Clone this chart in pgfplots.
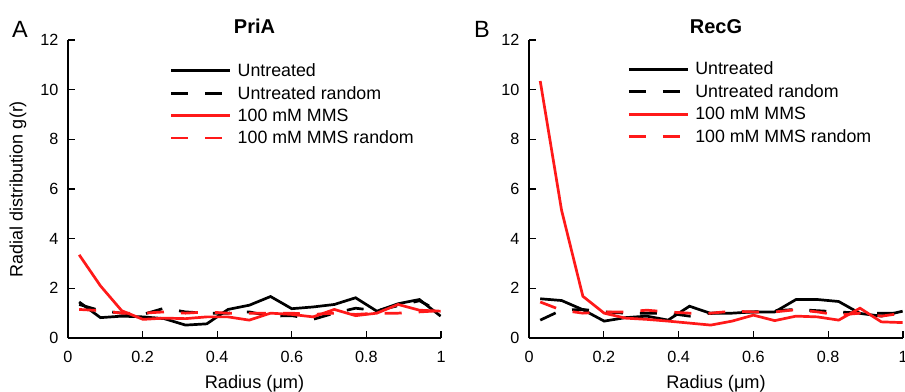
\documentclass[border=0pt]{standalone}
\usepackage{fontspec}
\setmainfont{Liberation Sans}
\usepackage{pgfplots}
\usepackage{pgfplotstable}
\pgfplotsset{compat=1.18}
\definecolor{myred}{RGB}{255,25,25}

\pgfplotstableread{
x     ut    utr   mms   mmsr
0.030 1.45  1.35  3.35  1.15
0.087 0.82  1.10  2.10  1.10
0.144 0.88  1.00  1.10  1.00
0.201 0.85  0.95  0.75  1.00
0.258 0.78  1.20  0.80  1.05
0.315 0.52  1.05  0.78  1.00
0.372 0.57  1.00  0.85  1.05
0.429 1.15  1.00  0.85  1.00
0.486 1.32  1.05  0.72  1.00
0.543 1.67  0.88  1.00  1.00
0.600 1.18  0.90  0.95  1.00
0.657 1.25  0.75  0.85  0.95
0.714 1.35  1.00  1.15  1.00
0.771 1.62  1.20  0.90  0.95
0.828 1.08  1.10  1.00  1.00
0.885 1.38  1.30  1.35  1.00
0.942 1.55  1.50  1.12  1.05
0.999 0.88  1.05  1.08  1.10
}\pria

\pgfplotstableread{
x     ut    utr   mms   mmsr
0.030 1.58  0.72  10.35 1.45
0.087 1.51  1.12  5.15  1.12
0.144 1.14  1.15  1.68  1.00
0.201 0.68  1.05  1.00  1.05
0.258 0.82  1.00  0.80  1.05
0.315 0.88  1.00  0.75  1.12
0.372 0.72  1.00  0.68  1.05
0.429 1.28  0.88  0.60  1.00
0.486 0.99  1.00  0.52  1.00
0.543 1.00  1.05  0.68  1.08
0.600 1.05  1.05  0.92  1.05
0.657 1.05  1.10  0.70  1.05
0.714 1.55  1.15  0.88  1.14
0.771 1.55  1.10  0.85  1.05
0.828 1.47  1.05  0.72  0.92
0.885 0.99  1.00  1.20  1.00
0.942 0.88  1.00  0.65  0.88
0.999 1.08  1.00  0.62  1.00
}\recg

\pgfplotsset{
  gstyle/.style={
    scale only axis, height=298bp,
    xmin=0, xmax=1, ymin=0, ymax=12,
    axis lines=left,
    axis line style={-, line width=1.6bp, black},
    tick style={line width=1.3bp, black},
    major tick length=7bp, tick align=inside,
    xtick={0,0.2,0.4,0.6,0.8,1},
    xticklabels={0,0.2,0.4,0.6,0.8,1},
    ytick={0,2,4,6,8,10,12},
    /pgf/number format/assume math mode=true,
    xticklabel style={font=\fontsize{16.2bp}{18bp}\selectfont, yshift=-10bp},
    yticklabel style={font=\fontsize{16.2bp}{18bp}\selectfont, xshift=-6bp},
    xlabel={Radius (μm)},
    xlabel style={at={(axis description cs:0.5,-0.168)}, anchor=base, font=\fontsize{18.2bp}{20bp}\selectfont},
    title style={at={(axis description cs:0.5,1)}, anchor=base, yshift=1bp, font=\fontsize{20bp}{22bp}\selectfont\bfseries},
    legend style={draw=none, fill=none, anchor=north west,
      font=\fontsize{17.8bp}{20bp}\selectfont, row sep=4.2bp,
      /tikz/every odd column/.append style={column sep=4bp}},
    legend cell align=left,
    legend image code/.code={\draw[#1] (0bp,0bp) -- (59bp,0bp);},
  }
}

\begin{document}
\begin{tikzpicture}
\path[use as bounding box] (0,0) rectangle (905bp,392bp);

\begin{axis}[gstyle, width=373bp, at={(68bp,54bp)}, anchor=south west,
  title={PriA},
  ylabel={Radial distribution g(r)},
  ylabel style={at={(axis description cs:-0.134,0.5)}, anchor=center, font=\fontsize{18bp}{20bp}\selectfont},
  legend style={at={(0.265,0.935)}}]
\addplot[black, line width=2.7bp] table[x=x,y=ut] {\pria};
\addplot[black, line width=2.7bp, dash pattern=on 17bp off 17bp] table[x=x,y=utr] {\pria};
\addplot[myred, line width=2.7bp] table[x=x,y=mms] {\pria};
\addplot[myred, line width=2.7bp, dash pattern=on 17bp off 17bp] table[x=x,y=mmsr] {\pria};
\legend{Untreated, Untreated random, 100 mM MMS, 100 mM MMS random}
\end{axis}

\begin{axis}[gstyle, width=374bp, at={(529bp,54bp)}, anchor=south west,
  title={RecG},
  legend style={at={(0.255,0.94)}}]
\addplot[black, line width=2.7bp] table[x=x,y=ut] {\recg};
\addplot[black, line width=2.7bp, dash pattern=on 17bp off 17bp] table[x=x,y=utr] {\recg};
\addplot[myred, line width=2.7bp] table[x=x,y=mms] {\recg};
\addplot[myred, line width=2.7bp, dash pattern=on 17bp off 17bp] table[x=x,y=mmsr] {\recg};
\legend{Untreated, Untreated random, 100 mM MMS, 100 mM MMS random}
\end{axis}

\node[anchor=base west, font=\fontsize{23.5bp}{25bp}\selectfont, inner sep=0pt] at (12bp,354bp) {A};
\node[anchor=base west, font=\fontsize{23.5bp}{25bp}\selectfont, inner sep=0pt] at (474bp,354bp) {B};
\end{tikzpicture}
\end{document}
